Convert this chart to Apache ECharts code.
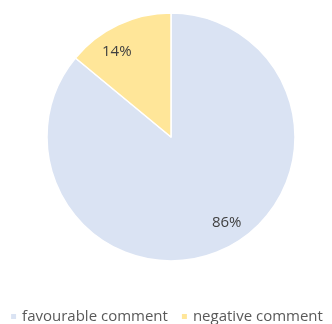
<!DOCTYPE html>
<html>
<head>
<meta charset="utf-8">
<script src="https://cdn.jsdelivr.net/npm/echarts@6/dist/echarts.min.js"></script>
<style>
  html, body { margin: 0; padding: 0; background: #fff; }
  #main { width: 332px; height: 324px; }
</style>
</head>
<body>
<div id="main"></div>
<script>
    const categories = ['favourable comment', 'negative comment'];
    const shares = [86, 14];
    const colors = ['#dae3f3', '#ffe699'];

    const chart = echarts.init(document.getElementById('main'));

    const cx = 171;
    const cy = 137;
    const radius = 124;
    const total = shares.reduce((a, b) => a + b, 0);

    // label sits along the slice's mid angle, pushed out toward the rim
    const labelPos = index => {
        let start = 90;
        for (let i = 0; i < index; i++) start -= shares[i] / total * 360;
        const mid = start - shares[index] / total * 180;
        const tweak = index === 0 ? 8 : 7;
        const ang = (mid + tweak) * Math.PI / 180;
        const r = radius * 0.82;
        return { x: cx + r * Math.cos(ang), y: cy - r * Math.sin(ang) + 1 };
    };

    const option = {
        animation: false,
        textStyle: { fontFamily: 'Open Sans' },
        legend: {
            bottom: -5,
            left: 'center',
            icon: 'path://M0,0H10V10H0Z',
            itemWidth: 7,
            itemHeight: 7,
            itemGap: 12,
            textStyle: { fontSize: 15, color: '#595959', fontFamily: 'Open Sans' },
            data: categories,
        },
        series: [{
            type: 'pie',
            center: [cx, cy],
            radius: radius,
            startAngle: 90,
            clockwise: true,
            itemStyle: { borderColor: '#fff', borderWidth: 1.5 },
            label: {
                show: true,
                position: 'inside',
                formatter: '{c}%',
                fontSize: 15,
                color: '#404040',
                fontFamily: 'Open Sans',
            },
            labelLayout(params) {
                const p = labelPos(params.dataIndex);
                return { x: p.x, y: p.y, align: 'center', verticalAlign: 'middle' };
            },
            emphasis: { disabled: true },
            data: categories.map((name, i) => ({
                name,
                value: shares[i],
                itemStyle: { color: colors[i] },
            })),
        }],
    };

    chart.setOption(option);
</script>
</body>
</html>
